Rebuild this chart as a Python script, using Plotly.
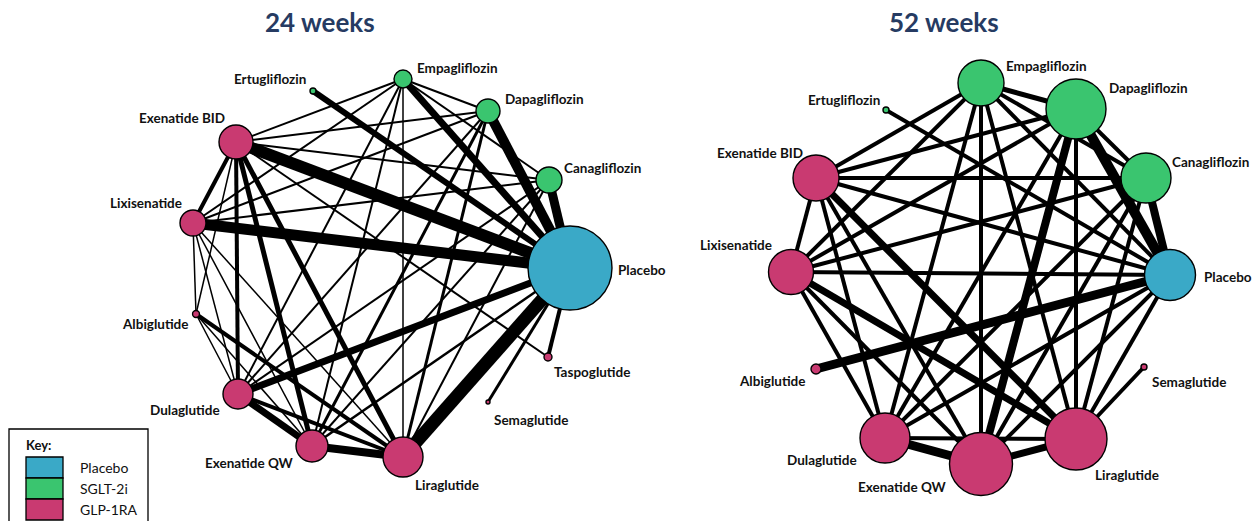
import plotly.graph_objects as go

# ---------------- data ----------------
treatments = ["Placebo", "Empagliflozin", "Ertugliflozin", "Dapagliflozin", "Canagliflozin",
              "Exenatide BID", "Lixisenatide", "Albiglutide", "Taspoglutide", "Dulaglutide",
              "Semaglutide", "Exenatide QW", "Liraglutide"]
drug_class = ["Placebo", "SGLT-2i", "SGLT-2i", "SGLT-2i", "SGLT-2i",
              "GLP-1RA", "GLP-1RA", "GLP-1RA", "GLP-1RA", "GLP-1RA",
              "GLP-1RA", "GLP-1RA", "GLP-1RA"]
key_labels = ["Placebo", "SGLT-2i", "GLP-1RA"]

# node size index (relative sample size) per treatment, None = not in network
size_24 = [1764, 81, 9, 144, 169, 289, 169, 12, 16, 225, 4, 256, 400]
size_52 = [650, 529, 9, 900, 625, 529, 506, 25, None, 625, 9, 992, 961]

# comparisons (treatment A, treatment B, relative number of trials)
edges_24 = [
    ("Placebo", "Liraglutide", 13), ("Placebo", "Exenatide BID", 12), ("Placebo", "Lixisenatide", 11),
    ("Placebo", "Dapagliflozin", 10), ("Placebo", "Canagliflozin", 9), ("Placebo", "Empagliflozin", 7),
    ("Placebo", "Dulaglutide", 7), ("Placebo", "Ertugliflozin", 6), ("Placebo", "Taspoglutide", 4),
    ("Placebo", "Semaglutide", 3), ("Placebo", "Exenatide QW", 2.5),
    ("Empagliflozin", "Dapagliflozin", 2), ("Empagliflozin", "Canagliflozin", 2),
    ("Empagliflozin", "Exenatide BID", 2), ("Empagliflozin", "Lixisenatide", 2),
    ("Empagliflozin", "Dulaglutide", 2), ("Empagliflozin", "Exenatide QW", 2),
    ("Empagliflozin", "Liraglutide", 1.5),
    ("Dapagliflozin", "Exenatide BID", 2), ("Dapagliflozin", "Lixisenatide", 2),
    ("Dapagliflozin", "Dulaglutide", 2), ("Dapagliflozin", "Exenatide QW", 3),
    ("Dapagliflozin", "Liraglutide", 3),
    ("Canagliflozin", "Exenatide BID", 2), ("Canagliflozin", "Lixisenatide", 2),
    ("Canagliflozin", "Dulaglutide", 2), ("Canagliflozin", "Exenatide QW", 2),
    ("Canagliflozin", "Liraglutide", 2),
    ("Exenatide BID", "Lixisenatide", 4), ("Exenatide BID", "Dulaglutide", 4),
    ("Exenatide BID", "Exenatide QW", 5), ("Exenatide BID", "Liraglutide", 5),
    ("Exenatide BID", "Taspoglutide", 2), ("Exenatide BID", "Albiglutide", 1.5),
    ("Lixisenatide", "Dulaglutide", 1.5), ("Lixisenatide", "Exenatide QW", 1.5),
    ("Lixisenatide", "Liraglutide", 1.5), ("Lixisenatide", "Albiglutide", 1.5),
    ("Albiglutide", "Dulaglutide", 1.5), ("Albiglutide", "Exenatide QW", 1.5),
    ("Albiglutide", "Liraglutide", 4),
    ("Dulaglutide", "Exenatide QW", 7), ("Dulaglutide", "Liraglutide", 4),
    ("Exenatide QW", "Liraglutide", 8),
]
edges_52 = [
    ("Placebo", "Dapagliflozin", 10), ("Placebo", "Canagliflozin", 8), ("Placebo", "Albiglutide", 9),
    ("Placebo", "Ertugliflozin", 4), ("Placebo", "Empagliflozin", 4), ("Placebo", "Exenatide BID", 4),
    ("Placebo", "Lixisenatide", 4), ("Placebo", "Dulaglutide", 4), ("Placebo", "Exenatide QW", 4),
    ("Placebo", "Liraglutide", 4),
    ("Empagliflozin", "Dapagliflozin", 5), ("Empagliflozin", "Canagliflozin", 4),
    ("Empagliflozin", "Exenatide BID", 4), ("Empagliflozin", "Lixisenatide", 4),
    ("Empagliflozin", "Dulaglutide", 4), ("Empagliflozin", "Exenatide QW", 4),
    ("Empagliflozin", "Liraglutide", 4),
    ("Dapagliflozin", "Canagliflozin", 4), ("Dapagliflozin", "Exenatide BID", 4),
    ("Dapagliflozin", "Lixisenatide", 4), ("Dapagliflozin", "Dulaglutide", 4),
    ("Dapagliflozin", "Exenatide QW", 8), ("Dapagliflozin", "Liraglutide", 4),
    ("Canagliflozin", "Exenatide BID", 4), ("Canagliflozin", "Lixisenatide", 4),
    ("Canagliflozin", "Dulaglutide", 4), ("Canagliflozin", "Exenatide QW", 4),
    ("Canagliflozin", "Liraglutide", 4),
    ("Exenatide BID", "Lixisenatide", 4), ("Exenatide BID", "Dulaglutide", 4),
    ("Exenatide BID", "Exenatide QW", 4), ("Exenatide BID", "Liraglutide", 7),
    ("Lixisenatide", "Dulaglutide", 4), ("Lixisenatide", "Exenatide QW", 4),
    ("Lixisenatide", "Liraglutide", 7),
    ("Semaglutide", "Liraglutide", 4),
    ("Dulaglutide", "Exenatide QW", 9), ("Dulaglutide", "Liraglutide", 4),
    ("Exenatide QW", "Liraglutide", 7),
]
panel_titles = ["24 weeks", "52 weeks"]

# ---------------- layout (positions / styles) ----------------
W, H = 1253, 521
class_colors = {"Placebo": "#3AA9C7", "SGLT-2i": "#3AC56F", "GLP-1RA": "#C93A71"}

pos_24 = {
    "Placebo": (570, 268), "Empagliflozin": (403, 79), "Ertugliflozin": (313, 91),
    "Dapagliflozin": (488, 111), "Canagliflozin": (549, 180), "Exenatide BID": (236, 142),
    "Lixisenatide": (193, 223), "Albiglutide": (196, 314), "Taspoglutide": (548, 357),
    "Dulaglutide": (238, 394), "Semaglutide": (488, 402), "Exenatide QW": (312, 446),
    "Liraglutide": (403, 457),
}
pos_52 = {
    "Placebo": (1170, 275), "Empagliflozin": (981, 83), "Ertugliflozin": (886, 110),
    "Dapagliflozin": (1076, 109), "Canagliflozin": (1146, 178), "Exenatide BID": (816, 178),
    "Lixisenatide": (791, 272), "Albiglutide": (816, 369), "Semaglutide": (1144, 367),
    "Dulaglutide": (885, 438), "Exenatide QW": (981, 464), "Liraglutide": (1076, 439),
}
# label anchor: (x, y, side)
lab_24 = {
    "Ertugliflozin": (308, 79, "right"), "Empagliflozin": (415, 68, "left"),
    "Dapagliflozin": (503, 99, "left"), "Exenatide BID": (227, 118, "right"),
    "Canagliflozin": (562, 168, "left"), "Lixisenatide": (184, 203, "right"),
    "Placebo": (616, 270, "left"), "Albiglutide": (190, 324, "right"),
    "Taspoglutide": (552, 372, "left"), "Dulaglutide": (222, 410, "right"),
    "Semaglutide": (492, 420, "left"), "Exenatide QW": (296, 463, "right"),
    "Liraglutide": (413, 485, "left"),
}
lab_52 = {
    "Empagliflozin": (1004, 66, "left"), "Ertugliflozin": (882, 100, "right"),
    "Dapagliflozin": (1107, 88, "left"), "Exenatide BID": (805, 153, "right"),
    "Canagliflozin": (1170, 162, "left"), "Lixisenatide": (774, 245, "right"),
    "Placebo": (1202, 277, "left"), "Albiglutide": (807, 381, "right"),
    "Semaglutide": (1150, 382, "left"), "Dulaglutide": (859, 460, "right"),
    "Exenatide QW": (949, 487, "right"), "Liraglutide": (1093, 475, "left"),
}
title_pos = [(320, 22), (944, 22)]

FONT = "Lato"
fig = go.Figure()
annotations = []
shapes = []


def draw_panel(sizes, edges, pos, labs, title, tpos):
    for a, b, n in edges:
        (x0, y0), (x1, y1) = pos[a], pos[b]
        fig.add_trace(go.Scatter(x=[x0, x1], y=[y0, y1], mode="lines",
                                 line=dict(color="black", width=n * 1.0),
                                 hoverinfo="skip", showlegend=False))
    xs, ys, ds, cs, names = [], [], [], [], []
    for t, c, s in zip(treatments, drug_class, sizes):
        if s is None:
            continue
        xs.append(pos[t][0]); ys.append(pos[t][1])
        ds.append(2 * s ** 0.5); cs.append(class_colors[c]); names.append(t)
    fig.add_trace(go.Scatter(x=xs, y=ys, mode="markers", text=names, hoverinfo="text",
                             marker=dict(size=ds, color=cs, line=dict(color="black", width=1.4),
                                         opacity=1),
                             showlegend=False))
    for t, (lx, ly, side) in labs.items():
        annotations.append(dict(x=lx, y=ly, xref="x", yref="y", text=f"<b>{t}</b>",
                                showarrow=False, xanchor=side, yanchor="middle",
                                font=dict(family=FONT, size=13.5, color="#111111")))
    annotations.append(dict(x=tpos[0], y=tpos[1], xref="x", yref="y", text=f"<b>{title}</b>",
                            showarrow=False, xanchor="center", yanchor="middle",
                            font=dict(family=FONT, size=26, color="#263B62")))


draw_panel(size_24, edges_24, pos_24, lab_24, panel_titles[0], title_pos[0])
draw_panel(size_52, edges_52, pos_52, lab_52, panel_titles[1], title_pos[1])

# key box
shapes.append(dict(type="rect", xref="x", yref="y", x0=9, x1=148, y0=429, y1=525,
                   line=dict(color="black", width=1.3), fillcolor="white", layer="above"))
annotations.append(dict(x=24, y=445, xref="x", yref="y", text="<b>Key:</b>", showarrow=False,
                        xanchor="left", yanchor="middle",
                        font=dict(family=FONT, size=13, color="#111111")))
for i, lab in enumerate(key_labels):
    y0 = 457 + i * 21
    shapes.append(dict(type="rect", xref="x", yref="y", x0=26, x1=63, y0=y0, y1=y0 + 21,
                       line=dict(color="black", width=1.3), fillcolor=class_colors[lab],
                       layer="above"))
    annotations.append(dict(x=78, y=y0 + 10.5, xref="x", yref="y", text=lab, showarrow=False,
                            xanchor="left", yanchor="middle",
                            font=dict(family=FONT, size=14, color="#111111")))

fig.update_layout(
    width=W, height=H, autosize=False,
    margin=dict(l=0, r=0, t=0, b=0),
    paper_bgcolor="white", plot_bgcolor="white",
    xaxis=dict(range=[0, W], visible=False, fixedrange=True),
    yaxis=dict(range=[H, 0], visible=False, fixedrange=True),
    annotations=annotations, shapes=shapes,
    showlegend=False,
)
fig.write_html("out.html", config={"displayModeBar": False})
